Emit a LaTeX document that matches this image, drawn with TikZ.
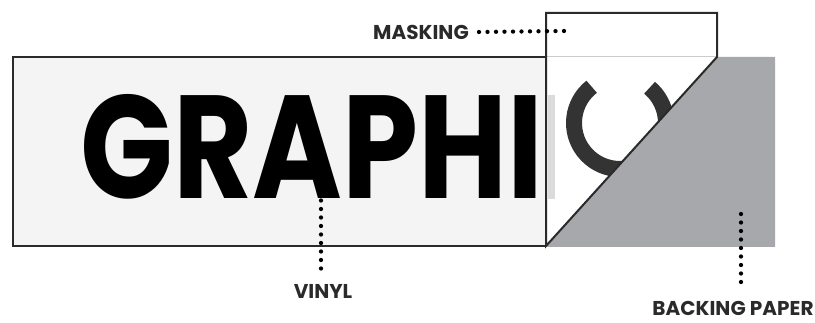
\documentclass[tikz,border=0pt]{standalone}
\usepackage{fontspec}
\usepackage{graphicx}
\newfontfamily\popfont{Poppins}
\definecolor{vinylfill}{HTML}{F4F4F4}
\definecolor{backing}{HTML}{A7A8AB}
\definecolor{edge}{HTML}{2A2A2A}
\definecolor{cgray}{HTML}{333333}
\tikzset{
  labeltext/.style={font=\popfont\bfseries\fontsize{20}{20}\selectfont, text=edge, inner sep=0pt},
  dotline/.style={line width=4.3pt, line cap=round, dash pattern=on 0pt off 8.5pt, draw=black},
  outline/.style={draw=edge, line width=2.4pt, line join=miter},
}
\begin{document}
\begin{tikzpicture}[x=1pt,y=-1pt]
\useasboundingbox (0,0) rectangle (815,323);
% vinyl sheet
\fill[vinylfill] (13,57) rectangle (546,246);
% big word
\node[anchor=south west, inner sep=0pt] (word) at (80,199)
  {\resizebox{463pt}{104pt}{\popfont\bfseries GRAPHI}};
% masking sheet
\fill[white] (546,13) -- (717,13) -- (717,57) -- (546,246) -- cycle;
\draw[gray!40, line width=1pt] (547,57) -- (717,57);
\fill[black!14] (548,95) rectangle (555,199);
% letter C seen through masking
\draw[cgray, line width=16pt, line cap=butt] (620,123) ++(-128:46) arc[start angle=-128, end angle=-410, radius=46];
% backing paper
\fill[backing] (717,57) -- (775,57) -- (775,247) -- (546,247) -- cycle;
% outlines
\draw[outline, line width=2pt] (546,246) -- (546,13) -- (717,13) -- (717,57) -- cycle;
\draw[outline] (546,57) -- (13,57) -- (13,246) -- (546,246);
% labels
\node[labeltext] (masking) at (421,32) {MASKING};
\coordinate (maskpt) at (564,31);
\draw[dotline] (maskpt) -- ([xshift=10pt]masking.east);
\node[labeltext] (vinyl) at (323,291) {VINYL};
\coordinate (vinylpt) at (321,192);
\draw[dotline] (vinylpt) -- ([yshift=12pt]vinylpt |- vinyl.north);
\node[labeltext] (backingpaper) at (733,308) {BACKING PAPER};
\coordinate (backpt) at (741,214);
\draw[dotline] (backpt) -- ([yshift=12pt]backpt |- backingpaper.north);
\end{tikzpicture}
\end{document}
